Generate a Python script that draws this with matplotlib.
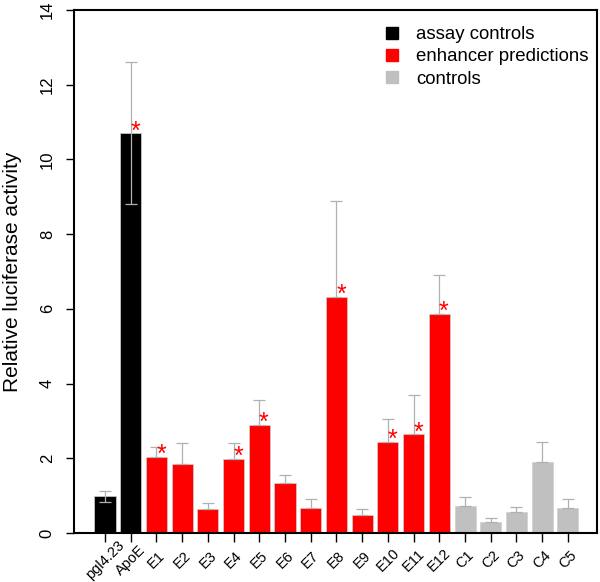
import numpy as np
import matplotlib.pyplot as plt

plt.rcParams['font.family'] = ['Liberation Sans', 'DejaVu Sans']

# Luciferase assay values
labels = ['pgl4.23', 'ApoE', 'E1', 'E2', 'E3', 'E4', 'E5', 'E6', 'E7', 'E8',
          'E9', 'E10', 'E11', 'E12', 'C1', 'C2', 'C3', 'C4', 'C5']
means = [0.98, 10.70, 2.04, 1.85, 0.64, 1.99, 2.90, 1.35, 0.68, 6.33,
         0.48, 2.43, 2.64, 5.87, 0.72, 0.29, 0.57, 1.89, 0.67]
errors = [0.15, 1.90, 0.26, 0.55, 0.15, 0.41, 0.67, 0.21, 0.23, 2.57,
          0.15, 0.61, 1.05, 1.03, 0.24, 0.10, 0.12, 0.54, 0.23]
groups = ['assay controls'] * 2 + ['enhancer predictions'] * 12 + ['controls'] * 5
significant = ['ApoE', 'E1', 'E4', 'E5', 'E8', 'E10', 'E11', 'E12']

group_colors = {'assay controls': 'black',
                'enhancer predictions': '#ff0000',
                'controls': '#c0c0c0'}

x = np.arange(len(labels))
colors = [group_colors[g] for g in groups]
# lower error bars only shown for the assay controls
lower = [e if g == 'assay controls' else 0 for e, g in zip(errors, groups)]

fig = plt.figure(figsize=(6, 5.82), dpi=100)
ax = fig.add_axes([0.1233, 0.0842, 0.8717, 0.8986])

ax.bar(x, means, width=0.82, color=colors, edgecolor='#d0d0d0', linewidth=0.5, zorder=2)
ax.errorbar(x, means, yerr=[lower, errors], fmt='none', ecolor='#b0b0b0',
            elinewidth=0.9, capsize=4.5, capthick=0.9, zorder=3)

for xi, name, m in zip(x, labels, means):
    if name in significant:
        ax.text(xi + 0.18, m - 0.27, '*', color='#ff0000', fontsize=18,
                ha='center', va='bottom', zorder=4)

for g in ['assay controls', 'enhancer predictions', 'controls']:
    ax.plot([], [], 's', color=group_colors[g], markersize=9, label=g)
ax.legend(loc='upper left', bbox_to_anchor=(0.634, 0.9553), bbox_transform=fig.transFigure,
          frameon=False, fontsize=13.4, handlelength=1.2, handletextpad=0.72,
          labelspacing=0.28, borderaxespad=0, borderpad=0)

ax.set_xlim(-1.205, 19.13)
ax.set_ylim(0, 14)
ax.set_yticks(range(0, 15, 2))
ax.set_xticks(x)
ax.set_xticklabels(labels, rotation=45, ha='center', va='center',
                   rotation_mode='anchor', fontsize=10.5)
for lab in ax.get_yticklabels():
    lab.set_rotation(90)
    lab.set_va('center')
ax.tick_params(axis='y', labelsize=12, length=5.8, width=1, direction='out', pad=8)
ax.tick_params(axis='x', length=6.5, width=1, direction='out', pad=13)
for sp in ax.spines.values():
    sp.set_linewidth(1.5)

ax.set_ylabel('Relative luciferase activity', fontsize=15, labelpad=13)

fig.savefig('out.png', dpi=100)
